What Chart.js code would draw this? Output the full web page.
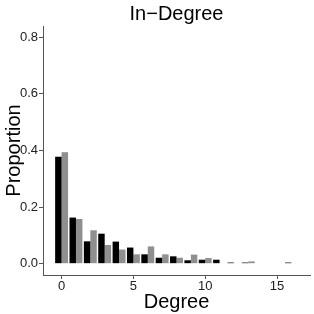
<!DOCTYPE html>
<html>
<head>
<meta charset="utf-8">
<script src="https://cdn.jsdelivr.net/npm/chart.js@4.4.0/dist/chart.umd.min.js"></script>
<style>
  html, body { margin: 0; padding: 0; background: #fff; }
  #wrap { width: 314px; height: 314px; }
</style>
</head>
<body>
<div id="wrap"><canvas id="chart"></canvas></div>
<script>
// in-degree distribution, two groups (black / gray)
const degrees = [0, 1, 2, 3, 4, 5, 6, 7, 8, 9, 10, 11, 12, 13, 14, 15, 16];
const blackVals = [0.378, 0.163, 0.079, 0.106, 0.078, 0.057, 0.033, 0.021, 0.026, 0.012, 0.014, 0.014, 0.004, 0.004, 0, 0, 0.004];
const grayVals = [0.394, 0.158, 0.118, 0.066, 0.050, 0.033, 0.061, 0.033, 0.021, 0.032, 0.020, 0, 0, 0.008, 0, 0, 0];
const xTicks = [0, 5, 10, 15];
const yTicks = [0, 0.2, 0.4, 0.6, 0.8];

const axisColor = "#555555";
const font = "'Liberation Sans', Arial, sans-serif";

function pts(vals) {
  return degrees.map(function (d, i) { return { x: d, y: vals[i] }; });
}

const ctx = document.getElementById("chart").getContext("2d");
new Chart(ctx, {
  type: "bar",
  data: {
    datasets: [
      { data: pts(blackVals), backgroundColor: "#000000", barPercentage: 1.0, categoryPercentage: 0.9 },
      { data: pts(grayVals), backgroundColor: "#8f8f8f", barPercentage: 1.0, categoryPercentage: 0.9 }
    ]
  },
  options: {
    responsive: true,
    maintainAspectRatio: false,
    animation: false,
    layout: { padding: { left: 0, right: 4, top: 0, bottom: 0 } },
    plugins: {
      legend: { display: false },
      tooltip: { enabled: false },
      title: {
        display: true,
        text: "In\u2212Degree",
        fullSize: false,
        color: "#000",
        font: { family: font, size: 20, weight: "normal" },
        padding: { top: 2, bottom: 0 }
      }
    },
    scales: {
      x: {
        type: "linear",
        offset: false,
        min: -1.295,
        max: 17.295,
        afterBuildTicks: function (axis) {
          axis.ticks = xTicks.map(function (v) { return { value: v }; });
        },
        afterFit: function (axis) { axis.height = 39; },
        grid: { offset: false, drawOnChartArea: false, drawTicks: true, tickLength: 4, color: axisColor },
        border: { display: true, color: axisColor, width: 1 },
        ticks: { color: "#222", font: { family: font, size: 13 }, padding: 0, maxRotation: 0 },
        title: {
          display: true,
          text: "Degree",
          color: "#000",
          font: { family: font, size: 20 },
          padding: { top: 0, bottom: 0 }
        }
      },
      y: {
        min: -0.04,
        max: 0.84,
        afterBuildTicks: function (axis) {
          axis.ticks = yTicks.map(function (v) { return { value: v }; });
        },
        afterFit: function (axis) { axis.width = 43; },
        grid: { drawOnChartArea: false, drawTicks: true, tickLength: 4, color: axisColor },
        border: { display: true, color: axisColor, width: 1 },
        ticks: {
          color: "#222",
          font: { family: font, size: 13 },
          padding: 1,
          callback: function (v) { return v.toFixed(1); }
        },
        title: {
          display: true,
          text: "Proportion",
          color: "#000",
          font: { family: font, size: 20 },
          padding: { top: 2, bottom: 0 }
        }
      }
    }
  }
});
</script>
</body>
</html>
